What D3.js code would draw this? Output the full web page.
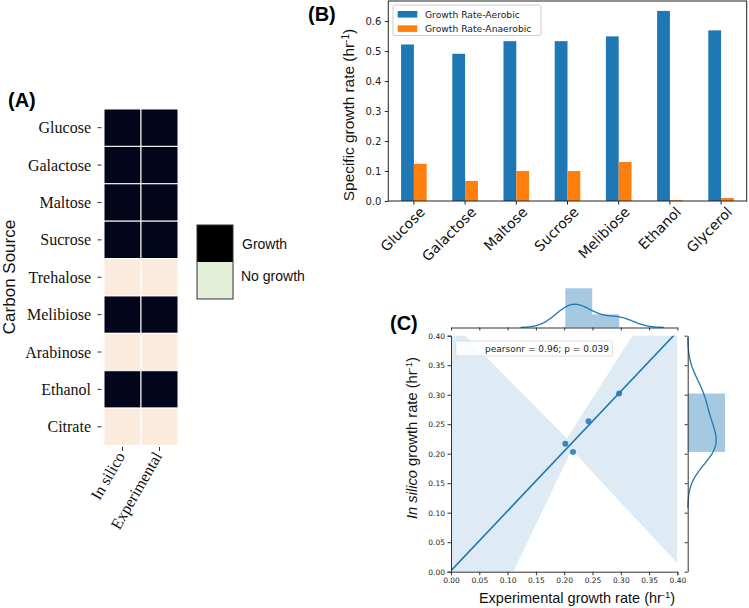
<!DOCTYPE html>
<html><head><meta charset="utf-8">
<script src="https://cdn.jsdelivr.net/npm/d3@7"></script>
<style>body{margin:0;background:#fff}svg{display:block}</style>
</head><body>
<script>
// ---------- Panel A data ----------
const carbonSources = ['Glucose','Galactose','Maltose','Sucrose','Trehalose','Melibiose','Arabinose','Ethanol','Citrate'];
const conditions = ['In silico','Experimental'];
const inSilicoGrowth = [1,1,1,1,0,1,0,1,0];
const experimentalGrowth = [1,1,1,1,0,1,0,1,0];
const growthLegend = ['Growth','No growth'];

// ---------- Panel B data ----------
const bCategories = ['Glucose','Galactose','Maltose','Sucrose','Melibiose','Ethanol','Glycerol'];
const aerobicRate = [0.522,0.491,0.533,0.533,0.549,0.634,0.569];
const anaerobicRate = [0.124,0.067,0.100,0.100,0.130,0.003,0.010];
const bSeries = ['Growth Rate-Aerobic','Growth Rate-Anaerobic'];
const bYTicks = [0.0,0.1,0.2,0.3,0.4,0.5,0.6];

// ---------- Panel C data ----------
const expRate = [0.202,0.2155,0.243,0.297];
const silicoRate = [0.217,0.203,0.255,0.302];
const cTicks = [0,0.05,0.10,0.15,0.20,0.25,0.30,0.35,0.40];
const ciX     = [0, 0.05, 0.10, 0.15, 0.20, 0.205, 0.213, 0.22, 0.25, 0.30, 0.35, 0.40];
const ciUpper = [0.424,0.376,0.327,0.279,0.230,0.226,0.238,0.249,0.294,0.369,0.444,0.519];
const ciLower = [-0.22,-0.12,-0.02,0.08,0.18,0.19,0.206,0.200,0.169,0.117,0.066,0.014];
const topBinCount = 2, rightBinCount = 1;
const statText = 'pearsonr = 0.96; p = 0.039';

const W=749,H=608;
const svg=d3.select('body').append('svg').attr('width',W).attr('height',H);
svg.append('rect').attr('width',W).attr('height',H).attr('fill','#fff');
const SANS='"Liberation Sans", Arial, sans-serif', DV='"DejaVu Sans", sans-serif', SERIF='"Liberation Serif", "Times New Roman", serif';
const blue='#1f77b4', orange='#ff7f0e';

// ================= Panel A =================
const gA=svg.append('g');
const aX=d3.scaleBand().domain(conditions).range([104,178]);
const aY=d3.scaleBand().domain(carbonSources).range([109,445.5]);
const aCells=[];
carbonSources.forEach((c,i)=>{
  aCells.push({row:c,col:conditions[0],v:inSilicoGrowth[i]});
  aCells.push({row:c,col:conditions[1],v:experimentalGrowth[i]});
});
const aColor=d3.scaleOrdinal().domain([1,0]).range(['#03051a','#faebdd']);
gA.selectAll('rect.cell').data(aCells).join('rect').attr('class','cell')
  .attr('x',d=>aX(d.col)).attr('y',d=>aY(d.row))
  .attr('width',aX.bandwidth()).attr('height',aY.bandwidth())
  .attr('fill',d=>aColor(d.v)).attr('stroke','#fff').attr('stroke-width',1);
const aLeft=gA.append('g').attr('transform','translate(101.5,0)')
  .call(d3.axisLeft(aY).tickSize(4).tickPadding(6.5));
aLeft.select('.domain').remove();
aLeft.selectAll('line').attr('stroke','#333');
aLeft.selectAll('text').attr('font-family',SERIF).attr('font-size',16).attr('fill','#111').attr('dy','0.35em');
const aBot=gA.append('g').attr('transform','translate(0,447)')
  .call(d3.axisBottom(aX).tickSize(4));
aBot.select('.domain').remove();
aBot.selectAll('line').attr('stroke','#333');
aBot.selectAll('text').attr('font-family',SERIF).attr('font-size',16).attr('fill','#111')
  .attr('text-anchor','end').attr('y',0).attr('dy',0)
  .attr('transform','translate(3,9) rotate(-60)');
gA.append('text').attr('transform','translate(15,277) rotate(-90)').attr('text-anchor','middle')
  .attr('font-family',SANS).attr('font-size',17).attr('fill','#111').text('Carbon Source');
gA.append('text').attr('x',8).attr('y',107).attr('font-family',SANS).attr('font-weight','bold')
  .attr('font-size',20).text('(A)');
// legend A
const legY=d3.scaleBand().domain(growthLegend).range([225,299]);
const legColor=d3.scaleOrdinal().domain(growthLegend).range(['#000000','#e3efd9']);
gA.selectAll('rect.leg').data(growthLegend).join('rect').attr('class','leg')
  .attr('x',197).attr('y',d=>legY(d)).attr('width',36).attr('height',legY.bandwidth())
  .attr('fill',d=>legColor(d));
gA.append('rect').attr('x',197).attr('y',225).attr('width',36).attr('height',74)
  .attr('fill','none').attr('stroke','#333').attr('stroke-width',1);
gA.selectAll('text.leg').data(growthLegend).join('text').attr('class','leg')
  .attr('x',(d,i)=>i===0?242:241).attr('y',(d,i)=>i===0?249:281)
  .attr('font-family',SANS).attr('font-size',14).attr('fill','#111').text(d=>d);

// ================= Panel B =================
const gB=svg.append('g');
const bx=d3.scaleBand().domain(bCategories).range([388.3,746.7]);
const by=d3.scaleLinear().domain([0,0.667]).range([201,1]);
const bw=bx.bandwidth()*0.25;
gB.selectAll('rect.aer').data(bCategories).join('rect').attr('class','aer')
  .attr('x',d=>bx(d)+bx.bandwidth()/2-bw).attr('width',bw)
  .attr('y',(d,i)=>by(aerobicRate[i])).attr('height',(d,i)=>by(0)-by(aerobicRate[i]))
  .attr('fill',blue);
gB.selectAll('rect.ana').data(bCategories).join('rect').attr('class','ana')
  .attr('x',d=>bx(d)+bx.bandwidth()/2).attr('width',bw)
  .attr('y',(d,i)=>by(anaerobicRate[i])).attr('height',(d,i)=>by(0)-by(anaerobicRate[i]))
  .attr('fill',orange);
gB.append('rect').attr('x',388.3).attr('y',1).attr('width',358.4).attr('height',200)
  .attr('fill','none').attr('stroke','#222').attr('stroke-width',1);
const bLeft=gB.append('g').attr('transform','translate(388.3,0)')
  .call(d3.axisLeft(by).tickValues(bYTicks).tickFormat(d3.format('.1f')).tickSize(3.5).tickPadding(3.5));
bLeft.select('.domain').remove();
bLeft.selectAll('line').attr('stroke','#222');
bLeft.selectAll('text').attr('font-family',DV).attr('font-size',10).attr('fill','#222');
const bBot=gB.append('g').attr('transform','translate(0,201)')
  .call(d3.axisBottom(bx).tickSize(3.5));
bBot.select('.domain').remove();
bBot.selectAll('line').attr('stroke','#222');
bBot.selectAll('text').attr('font-family',DV).attr('font-size',14).attr('fill','#111')
  .attr('text-anchor','end').attr('y',0).attr('dy',0)
  .attr('transform','translate(12,12) rotate(-45)');
gB.append('text').attr('transform','translate(354,115) rotate(-90)').attr('text-anchor','middle')
  .attr('font-family',SANS).attr('font-size',15.4).attr('fill','#111')
  .call(t=>{t.append('tspan').text('Specific growth rate (hr');
    t.append('tspan').attr('font-size','0.65em').attr('dy','-0.55em').text('-1');
    t.append('tspan').attr('dy','0.36em').text(')');});
gB.append('text').attr('x',308).attr('y',21).attr('font-family',SANS).attr('font-weight','bold')
  .attr('font-size',20).text('(B)');
// legend B
const lgB=gB.append('g');
lgB.append('rect').attr('x',393).attr('y',5).attr('width',148).attr('height',30.5).attr('rx',2)
  .attr('fill','#fff').attr('fill-opacity',0.85).attr('stroke','#ccc');
lgB.selectAll('rect.p').data(bSeries).join('rect').attr('class','p')
  .attr('x',397.7).attr('y',(d,i)=>11+i*14.3).attr('width',19.6).attr('height',6.6)
  .attr('fill',(d,i)=>i?orange:blue);
lgB.selectAll('text').data(bSeries).join('text')
  .attr('x',425).attr('y',(d,i)=>18+i*14.3).attr('font-family',DV).attr('font-size',9.2).attr('fill','#222').text(d=>d);

// ================= Panel C =================
const gC=svg.append('g');
const cx=d3.scaleLinear().domain([0,0.4]).range([451,677.4]);
const cy=d3.scaleLinear().domain([0,0.4]).range([571.7,335.7]);
svg.append('defs').append('clipPath').attr('id','clipC').append('rect')
  .attr('x',451).attr('y',335.7).attr('width',226.4).attr('height',236);
const plotC=gC.append('g').attr('clip-path','url(#clipC)');
const ci=ciX.map((x,i)=>({x,u:ciUpper[i],l:ciLower[i]}));
plotC.append('path').datum(ci)
  .attr('d',d3.area().x(d=>cx(d.x)).y0(d=>cy(d.l)).y1(d=>cy(d.u)))
  .attr('fill',blue).attr('fill-opacity',0.15);
// regression
const mx=d3.mean(expRate), my=d3.mean(silicoRate);
let sxy=0,sxx=0; expRate.forEach((x,i)=>{sxy+=(x-mx)*(silicoRate[i]-my); sxx+=(x-mx)*(x-mx);});
const slope=sxy/sxx, icpt=my-slope*mx;
plotC.append('path').datum([0,0.4])
  .attr('d',d3.line().x(d=>cx(d)).y(d=>cy(icpt+slope*d)))
  .attr('stroke',blue).attr('stroke-width',1.6).attr('fill','none');
plotC.selectAll('circle').data(expRate).join('circle')
  .attr('cx',d=>cx(d)).attr('cy',(d,i)=>cy(silicoRate[i])).attr('r',3)
  .attr('fill',blue).attr('fill-opacity',0.85);
const cLeft=gC.append('g').attr('transform','translate(451,0)')
  .call(d3.axisLeft(cy).tickValues(cTicks).tickFormat(d3.format('.2f')).tickSize(3.5).tickPadding(2.5));
const cBot=gC.append('g').attr('transform','translate(0,571.7)')
  .call(d3.axisBottom(cx).tickValues(cTicks).tickFormat(d3.format('.2f')).tickSize(3.5).tickPadding(2.5));
[cLeft,cBot].forEach(a=>{a.select('.domain').attr('stroke','#333');a.selectAll('line').attr('stroke','#333');
  a.selectAll('text').attr('font-family',DV).attr('font-size',7.5).attr('fill','#222');});
// stat box
gC.append('rect').attr('x',455.7).attr('y',341).attr('width',157).attr('height',15).attr('rx',2)
  .attr('fill','#fff').attr('fill-opacity',0.85).attr('stroke','#ddd');
gC.append('text').attr('x',485).attr('y',351.5).attr('font-family',DV).attr('font-size',9).attr('fill','#222').text(statText);
// labels
gC.append('text').attr('transform','translate(417,438) rotate(-90)').attr('text-anchor','middle')
  .attr('font-family',SANS).attr('font-size',14.7).attr('fill','#111')
  .call(t=>{t.append('tspan').attr('font-style','italic').text('In silico');
    t.append('tspan').text(' growth rate (hr');
    t.append('tspan').attr('font-size','0.65em').attr('dy','-0.55em').text('-1');
    t.append('tspan').attr('dy','0.36em').text(')');});
gC.append('text').attr('x',577).attr('y',603).attr('text-anchor','middle')
  .attr('font-family',SANS).attr('font-size',14.5).attr('fill','#111')
  .call(t=>{t.append('tspan').text('Experimental growth rate (hr');
    t.append('tspan').attr('font-size','0.65em').attr('dy','-0.55em').text('-1');
    t.append('tspan').attr('dy','0.36em').text(')');});
gC.append('text').attr('x',390).attr('y',330).attr('font-family',SANS).attr('font-weight','bold')
  .attr('font-size',20).text('(C)');

// KDE helper (statsmodels-style Scott bandwidth)
function kdeOf(vals){
  const s=vals.slice().sort(d3.ascending);
  const sd=d3.deviation(s);
  const iqr=(d3.quantileSorted(s,0.75)-d3.quantileSorted(s,0.25))/1.349;
  const bwk=1.059*Math.min(sd,iqr)*Math.pow(s.length,-0.2);
  const lo=s[0]-3*bwk, hi=s[s.length-1]+3*bwk;
  const pts=d3.range(0,201).map(k=>{const x=lo+(hi-lo)*k/200;
    const d=d3.mean(s,v=>Math.exp(-0.5*((x-v)/bwk)**2))/(bwk*Math.sqrt(2*Math.PI));return [x,d];});
  return pts;
}
function histOf(vals,n){
  const lo=d3.min(vals),hi=d3.max(vals),w=(hi-lo)/n;
  const bins=d3.bin().domain([lo,hi]).thresholds(d3.range(1,n).map(k=>lo+k*w))(vals);
  return bins.map(b=>({x0:b.x0,x1:b.x1,d:b.length/(vals.length*(b.x1-b.x0))}));
}
// top marginal
const topH=histOf(expRate,topBinCount), topK=kdeOf(expRate);
const topMax=Math.max(d3.max(topH,d=>d.d),d3.max(topK,d=>d[1]))*1.05;
const ty=d3.scaleLinear().domain([0,topMax]).range([327.5,286.3]);
gC.selectAll('rect.th').data(topH).join('rect').attr('class','th')
  .attr('x',d=>cx(d.x0)).attr('width',d=>cx(d.x1)-cx(d.x0)).attr('y',d=>ty(d.d)).attr('height',d=>ty(0)-ty(d.d))
  .attr('fill',blue).attr('fill-opacity',0.4);
gC.append('path').datum(topK).attr('d',d3.line().x(d=>cx(d[0])).y(d=>ty(d[1])))
  .attr('fill','none').attr('stroke',blue).attr('stroke-width',1.3);
const tAx=gC.append('g').attr('transform','translate(0,327.5)')
  .call(d3.axisBottom(cx).tickValues(cTicks).tickFormat('').tickSize(3).tickSizeOuter(0));
tAx.select('.domain').attr('stroke','#333');tAx.selectAll('line').attr('stroke','#333');
// right marginal
const rH=histOf(silicoRate,rightBinCount), rK=kdeOf(silicoRate);
const rMax=Math.max(d3.max(rH,d=>d.d),d3.max(rK,d=>d[1]))*1.05;
const rx=d3.scaleLinear().domain([0,rMax]).range([687.7,726.9]);
gC.selectAll('rect.rh').data(rH).join('rect').attr('class','rh')
  .attr('y',d=>cy(d.x1)).attr('height',d=>cy(d.x0)-cy(d.x1)).attr('x',rx(0)).attr('width',d=>rx(d.d)-rx(0))
  .attr('fill',blue).attr('fill-opacity',0.4);
gC.append('path').datum(rK).attr('d',d3.line().y(d=>cy(d[0])).x(d=>rx(d[1])))
  .attr('fill','none').attr('stroke',blue).attr('stroke-width',1.3);
const rAx=gC.append('g').attr('transform','translate(687.7,0)')
  .call(d3.axisLeft(cy).tickValues(cTicks).tickFormat('').tickSize(3).tickSizeOuter(0));
rAx.select('.domain').attr('stroke','#333');rAx.selectAll('line').attr('stroke','#333');
</script>
</body></html>
